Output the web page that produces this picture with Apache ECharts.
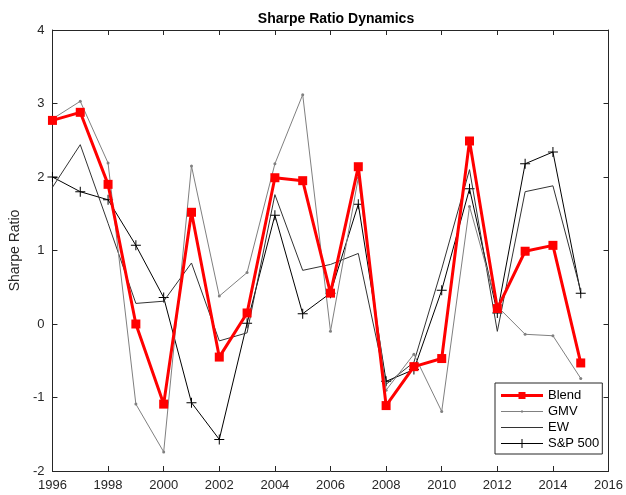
<!DOCTYPE html>
<html><head><meta charset="utf-8">
<script src="https://cdn.jsdelivr.net/npm/echarts@6/dist/echarts.min.js"></script>
<style>html,body{margin:0;padding:0;background:#fff}#c{width:626px;height:495px}</style>
</head><body><div id="c"></div>
<script>
const years = [1996,1997,1998,1999,2000,2001,2002,2003,2004,2005,2006,2007,2008,2009,2010,2011,2012,2013,2014,2015];
const blend = [2.77,2.88,1.90,0.00,-1.09,1.52,-0.45,0.15,1.99,1.95,0.42,2.14,-1.11,-0.58,-0.47,2.49,0.21,0.99,1.07,-0.53];
const gmv   = [2.79,3.03,2.19,-1.09,-1.74,2.15,0.38,0.70,2.18,3.12,-0.10,1.99,-0.90,-0.41,-1.19,1.60,0.24,-0.14,-0.16,-0.74];
const ew    = [1.86,2.44,1.37,0.28,0.31,0.83,-0.23,-0.12,1.76,0.73,0.81,0.96,-0.82,-0.52,0.75,2.10,-0.10,1.80,1.88,0.45];
const sp500 = [2.00,1.80,1.69,1.07,0.36,-1.07,-1.57,0.01,1.48,0.14,0.42,1.63,-0.78,-0.62,0.46,1.84,0.15,2.18,2.34,0.42];
const seriesNames = ['Blend','GMV','EW','S&P 500'];
const pair = arr => years.map((y,i)=>[y,arr[i]]);
const FONT = 'Liberation Sans, Arial, sans-serif';
const axCol = '#262626';
const plus = 'path://M0,4.5H10V5.5H0Z M4.5,0H5.5V10H4.5Z';
const box = 'M0,0L0,0ZM42,10L42,10Z';
const icons = {
  'Blend': 'path://' + box + 'M0,3.5H17.5V1.5H24.5V3.5H42V6.5H24.5V8.5H17.5V6.5H0Z',
  'GMV': 'path://' + box + 'M0,4.5H20V4H22V4.5H42V5.5H22V6H20V5.5H0Z',
  'EW': 'path://' + box + 'M0,4.5H42V5.5H0Z',
  'S&P 500': 'path://' + box + 'M0,4.5H20.5V0.5H21.5V4.5H42V5.5H21.5V9.5H20.5V5.5H0Z'
};
const chart = echarts.init(document.getElementById('c'), null, {renderer:'canvas'});
const xBase = {type:'value', min:1996, max:2016, interval:2,
  axisLine:{show:true,onZero:false,lineStyle:{color:axCol,width:1}},
  axisTick:{show:true,inside:true,length:5,lineStyle:{color:axCol}},
  splitLine:{show:false}};
const yBase = {type:'value', min:-2, max:4, interval:1,
  axisLine:{show:true,onZero:false,lineStyle:{color:axCol,width:1}},
  axisTick:{show:true,inside:true,length:5,lineStyle:{color:axCol}},
  splitLine:{show:false}};
chart.setOption({
  animation:false,
  backgroundColor:'#fff',
  title:{text:'Sharpe Ratio Dynamics', left:331, top:7, textAlign:'center',
    textStyle:{fontFamily:FONT,fontSize:14,fontWeight:'bold',color:'#000'}},
  grid:{left:52, right:15, top:30, bottom:24},
  xAxis:[
    Object.assign({}, xBase, {position:'bottom',
      axisLabel:{show:true,margin:8,color:axCol,fontFamily:FONT,fontSize:13,formatter:v=>String(v)}}),
    Object.assign({}, xBase, {position:'top', axisLabel:{show:false}})
  ],
  yAxis:[
    Object.assign({}, yBase, {position:'left', name:'Sharpe Ratio', nameLocation:'middle', nameGap:25,
      nameTextStyle:{fontFamily:FONT,fontSize:14,color:axCol},
      axisLabel:{show:true,margin:8,color:axCol,fontFamily:FONT,fontSize:13}}),
    Object.assign({}, yBase, {position:'right', axisLabel:{show:false}})
  ],
  legend:{
    data:seriesNames.map(n=>({name:n, icon:icons[n]})),
    orient:'vertical', left:495, top:383,
    backgroundColor:'#fff', borderColor:axCol, borderWidth:1,
    padding:[6,3,4,6], itemGap:3, itemWidth:42, itemHeight:10,
    textStyle:{fontFamily:FONT,fontSize:13,lineHeight:13,color:'#000'}
  },
  series:[
    {name:'S&P 500', type:'line', data:pair(sp500), z:2,
      symbol:plus, symbolSize:10, showSymbol:true,
      lineStyle:{color:'#000',width:1}, itemStyle:{color:'#000'}},
    {name:'EW', type:'line', data:pair(ew), z:3, symbol:'none',
      lineStyle:{color:'#333',width:1}, itemStyle:{color:'#333'}},
    {name:'GMV', type:'line', data:pair(gmv), z:4,
      symbol:'circle', symbolSize:3,
      lineStyle:{color:'#808080',width:1}, itemStyle:{color:'#808080'}},
    {name:'Blend', type:'line', data:pair(blend), z:5,
      symbol:'rect', symbolSize:9,
      lineStyle:{color:'#ff0000',width:3}, itemStyle:{color:'#ff0000'}}
  ]
});
</script></body></html>
